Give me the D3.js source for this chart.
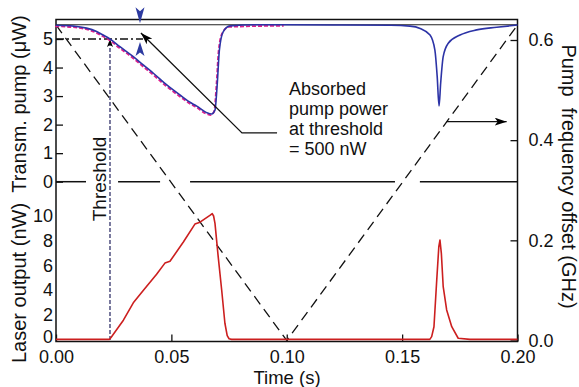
<!DOCTYPE html>
<html><head><meta charset="utf-8">
<script src="https://cdn.jsdelivr.net/npm/d3@7"></script>
<style>body{margin:0;background:#fff}svg{display:block}text{font-family:"Liberation Sans",Arial,Helvetica,sans-serif;fill:#111}</style>
</head><body>
<script>
// ---- data ----
const timeTicks = [0, 0.05, 0.10, 0.15, 0.20];
const transTicks = [0, 1, 2, 3, 4, 5];
const laserTicks = [0, 2, 4, 6, 8, 10];
const freqTicks = [0, 0.2, 0.4, 0.6];

const transTime  = [0, 0.0076, 0.0176, 0.0204, 0.0234, 0.0277, 0.0335, 0.0378, 0.0422, 0.0480, 0.0537, 0.0588, 0.0610, 0.0653, 0.0675, 0.0689, 0.0699, 0.0708, 0.0725, 0.0754, 0.0897, 0.12, 0.145, 0.1534, 0.1578, 0.1621, 0.1642, 0.1652, 0.1660, 0.1667, 0.1678, 0.1700, 0.1751, 0.1823, 0.1910, 0.2000];
const transValue = [5.48, 5.45, 5.26, 5.14, 5.00, 4.73, 4.38, 4.09, 3.80, 3.39, 3.04, 2.75, 2.65, 2.42, 2.37, 2.51, 3.45, 4.61, 5.26, 5.46, 5.50, 5.49, 5.48, 5.45, 5.37, 5.14, 4.61, 3.68, 2.65, 3.45, 4.38, 4.85, 5.14, 5.32, 5.41, 5.49];

const fitTime  = [0, 0.0076, 0.0176, 0.0204, 0.0234, 0.0277, 0.0335, 0.0378, 0.0422, 0.0480, 0.0537, 0.0588, 0.0610, 0.0653, 0.0675, 0.0689, 0.0699, 0.0708, 0.0725, 0.0754, 0.0990];
const fitValue = [5.48, 5.45, 5.26, 5.14, 5.00, 4.73, 4.38, 4.09, 3.80, 3.39, 3.04, 2.75, 2.65, 2.42, 2.37, 2.51, 3.45, 4.61, 5.26, 5.46, 5.50];

const laserTime  = [0, 0.0232, 0.0240, 0.0292, 0.0335, 0.0378, 0.0436, 0.0472, 0.0494, 0.0552, 0.0602, 0.0624, 0.0667, 0.0677, 0.0683, 0.0689, 0.0703, 0.0718, 0.0732, 0.0742, 0.0750, 0.0761, 0.1000, 0.1620, 0.1628, 0.1638, 0.1650, 0.1659, 0.1664, 0.1670, 0.1678, 0.1693, 0.1715, 0.1743, 0.1794, 0.2000];
const laserValue = [0.05, 0.05, 0.25, 1.6, 3.0, 4.0, 5.3, 6.2, 6.35, 7.9, 9.35, 9.5, 10.05, 10.2, 10.0, 9.4, 6.7, 4.03, 1.35, 0.35, 0.1, 0.05, 0.05, 0.05, 0.27, 1.07, 4.84, 7.52, 8.06, 6.99, 4.30, 2.42, 1.07, 0.14, 0.05, 0.05];

const freqTime  = [0, 0.1, 0.2];
const freqValue = [0.63, 0, 0.63];

const baselineLevel = 5.5;
const thresholdTime = 0.0234;
const thresholdLevel = 5.0;
const thresholdDashEnd = 0.0377;
const gapMarkTime = 0.0364;
const zeroLineSegments = [[0, 0.013], [0.0269, 0.0451], [0.0581, 0.1469], [0.1577, 0.2]];
const annotationLines = ["Absorbed", "pump power", "at threshold", "= 500 nW"];
const annotArrowTime = [0.0958, 0.0806, 0.0368];
const annotArrowValue = [1.71, 1.71, 5.21];
const freqArrowTime = [0.1693, 0.1953];
const freqArrowValue = 0.437;

// ---- chart ----
const W = 579, H = 387;
const L = 56, R = 517.5, T = 19.5, B = 341.5;
const svg = d3.select("body").append("svg").attr("width", W).attr("height", H);

const x = d3.scaleLinear().domain([0, 0.2]).range([L, R]);
const yTop = d3.scaleLinear().domain([0, 5]).range([181.7, 39]);
const yBot = d3.scaleLinear().domain([0, 10]).range([340, 216]);
const yR = d3.scaleLinear().domain([0, 0.6]).range([340.5, 40]);

const defs = svg.append("defs");
defs.append("marker").attr("id", "ah").attr("viewBox", "0 0 12 8").attr("refX", 12).attr("refY", 4)
  .attr("markerWidth", 12).attr("markerHeight", 8).attr("markerUnits", "userSpaceOnUse").attr("orient", "auto")
  .append("path").attr("d", "M0,0 L12,4 L0,8 L3,4 Z").attr("fill", "#000");
defs.append("marker").attr("id", "ahs").attr("viewBox", "0 0 8 6").attr("refX", 8).attr("refY", 3)
  .attr("markerWidth", 8).attr("markerHeight", 6).attr("markerUnits", "userSpaceOnUse").attr("orient", "auto")
  .append("path").attr("d", "M0,0 L8,3 L0,6 L2,3 Z").attr("fill", "#000");

const fontTick = 18;

// axes
function styleAxis(g) {
  g.select(".domain").remove();
  g.selectAll("text").attr("font-size", fontTick).attr("font-family", '"Liberation Sans",Arial,sans-serif').attr("fill", "#111");
  g.selectAll("line").attr("stroke", "#111").attr("stroke-width", 1.3);
}
svg.append("g").attr("transform", `translate(${L},0)`)
  .call(d3.axisLeft(yTop).tickValues(transTicks).tickFormat(d3.format("d")).tickSizeInner(-7).tickSizeOuter(0).tickPadding(3))
  .call(styleAxis);
const botAxis = svg.append("g").attr("transform", `translate(${L},0)`)
  .call(d3.axisLeft(yBot).tickValues(laserTicks).tickFormat(d3.format("d")).tickSizeInner(0).tickSizeOuter(0).tickPadding(3))
  .call(styleAxis);
botAxis.selectAll("text").attr("dy", d => d === 0 ? "0.12em" : "0.3em");
svg.append("g").attr("transform", `translate(${R},0)`)
  .call(d3.axisRight(yR).tickValues(freqTicks).tickFormat(d3.format(".1f")).tickSizeInner(-7).tickSizeOuter(0).tickPadding(11))
  .call(styleAxis);
svg.append("g").attr("transform", `translate(0,${B})`)
  .call(d3.axisBottom(x).tickValues(timeTicks).tickFormat(d3.format(".2f")).tickSizeInner(-7).tickSizeOuter(0).tickPadding(9))
  .call(styleAxis);

// frame
svg.append("rect").attr("x", L).attr("y", T).attr("width", R - L).attr("height", B - T)
  .attr("fill", "none").attr("stroke", "#111").attr("stroke-width", 1.5);

// baseline level 5.5
svg.append("line").attr("x1", x(0)).attr("x2", x(0.2)).attr("y1", yTop(baselineLevel)).attr("y2", yTop(baselineLevel))
  .attr("stroke", "#222").attr("stroke-width", 1.2);

// zero line of upper panel (with gaps)
svg.selectAll(".zl").data(zeroLineSegments).enter().append("line")
  .attr("x1", d => x(d[0])).attr("x2", d => x(d[1])).attr("y1", yTop(0)).attr("y2", yTop(0))
  .attr("stroke", "#111").attr("stroke-width", 1.5);

// pump frequency dashed triangle
const freqLine = d3.line().x((d, i) => x(freqTime[i])).y(d => yR(d));
svg.append("path").attr("d", freqLine(freqValue)).attr("fill", "none")
  .attr("stroke", "#111").attr("stroke-width", 1.3).attr("stroke-dasharray", "10,6");

// threshold dash-dot horizontal
svg.append("line").attr("x1", x(0)).attr("x2", x(thresholdDashEnd)).attr("y1", yTop(thresholdLevel)).attr("y2", yTop(thresholdLevel))
  .attr("stroke", "#111").attr("stroke-width", 1.3).attr("stroke-dasharray", "8,3,2,3");

// threshold vertical dashed arrow
svg.append("line").attr("x1", x(thresholdTime)).attr("x2", x(thresholdTime))
  .attr("y1", yBot(0)).attr("y2", yTop(thresholdLevel))
  .attr("stroke", "#22225e").attr("stroke-width", 1.2).attr("stroke-dasharray", "4,2").attr("marker-end", "url(#ahs)");

// fit (magenta dashed) and data (blue)
const topLine = d3.line().curve(d3.curveMonotoneX);
svg.append("path").attr("d", topLine(fitValue.map((v, i) => [x(fitTime[i]), yTop(v)])))
  .attr("fill", "none").attr("stroke", "#e0208c").attr("stroke-width", 1.8).attr("stroke-dasharray", "4,2")
  .attr("transform", "translate(-0.8,1)");
svg.append("path").attr("d", topLine(transValue.map((v, i) => [x(transTime[i]), yTop(v)])))
  .attr("fill", "none").attr("stroke", "#2c33a6").attr("stroke-width", 1.6);

// laser output (red)
const botLine = d3.line();
svg.append("path").attr("d", botLine(laserValue.map((v, i) => [x(laserTime[i]), yBot(v)])))
  .attr("fill", "none").attr("stroke", "#cc1f1f").attr("stroke-width", 1.6).attr("stroke-linejoin", "round");

// blue gap markers
const gx = x(gapMarkTime);
const tipTop = yTop(baselineLevel) - 1.5, tipBot = yTop(thresholdLevel) + 3;
svg.append("path").attr("d", `M${gx},${tipTop} L${gx - 4.5},${tipTop - 16} L${gx},${tipTop - 12} L${gx + 4.5},${tipTop - 16} Z`).attr("fill", "#2c3aa0");
svg.append("path").attr("d", `M${gx},${tipBot} L${gx - 4.5},${tipBot + 14} L${gx},${tipBot + 10.5} L${gx + 4.5},${tipBot + 14} Z`).attr("fill", "#2c3aa0");

// annotation arrow
const annPts = annotArrowTime.map((t, i) => [x(t), yTop(annotArrowValue[i])]);
svg.append("path").attr("d", d3.line()(annPts)).attr("fill", "none").attr("stroke", "#111").attr("stroke-width", 1.3)
  .attr("marker-end", "url(#ah)");

// frequency arrow
svg.append("line").attr("x1", x(freqArrowTime[0])).attr("x2", x(freqArrowTime[1]))
  .attr("y1", yR(freqArrowValue)).attr("y2", yR(freqArrowValue))
  .attr("stroke", "#111").attr("stroke-width", 1.3).attr("marker-end", "url(#ah)");

// annotation text
svg.append("g").selectAll("text").data(annotationLines).enter().append("text")
  .attr("x", 289).attr("y", (d, i) => 95 + i * 20).attr("font-size", 18).text(d => d);

// threshold text
svg.append("text").attr("transform", "translate(106,179) rotate(-90)").attr("text-anchor", "middle")
  .attr("font-size", 19).text("Threshold");

// axis titles
svg.append("text").attr("transform", "translate(26,104) rotate(-90)").attr("text-anchor", "middle")
  .attr("font-size", 20).text("Transm. pump (μW)");
svg.append("text").attr("transform", "translate(26,283) rotate(-90)").attr("text-anchor", "middle")
  .attr("font-size", 20).text("Laser output (nW)");
svg.append("text").attr("transform", "translate(562,176.5) rotate(90)").attr("text-anchor", "middle")
  .attr("font-size", 20).style("white-space", "pre").text("Pump  frequency offset (GHz)");
svg.append("text").attr("x", 287).attr("y", 384).attr("text-anchor", "middle")
  .attr("font-size", 18.5).text("Time (s)");
</script>
</body></html>
